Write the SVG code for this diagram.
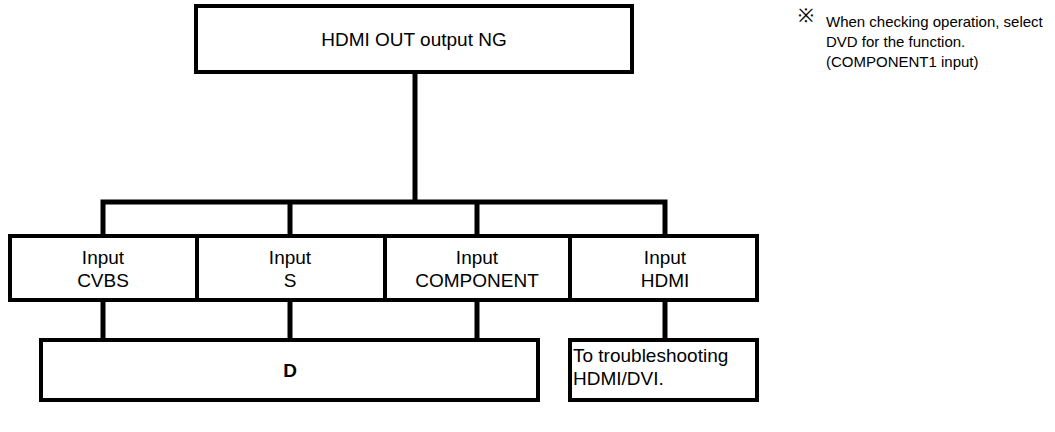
<svg xmlns="http://www.w3.org/2000/svg" width="1055" height="432" viewBox="0 0 1055 432">
<style>
.box{fill:#fff;stroke:#000;stroke-width:4}
.ln{fill:none;stroke:#000;stroke-width:5}
text{font-family:"Liberation Sans",Arial,sans-serif;font-size:19px;fill:#000}
.c{text-anchor:middle}
.n{font-size:15px}
</style>
<rect width="1055" height="432" fill="#fff"/>
<g id="connectors">
<path class="ln" d="M415 72V202M103 236V202H665V236M290 202V236M477 202V236"/>
<path class="ln" d="M103 300V340M290 300V340M477 300V340M665 300V340"/>
</g>
<g id="top"><rect class="box" x="196" y="6" width="436" height="66"/><text class="c" x="414" y="46">HDMI OUT output NG</text></g>
<g id="cvbs"><rect class="box" x="10" y="236" width="187" height="64"/><text class="c" x="103" y="264">Input</text><text class="c" x="103" y="287">CVBS</text></g>
<g id="s"><rect class="box" x="197" y="236" width="188" height="64"/><text class="c" x="290" y="264">Input</text><text class="c" x="290" y="287">S</text></g>
<g id="component"><rect class="box" x="385" y="236" width="185" height="64"/><text class="c" x="477" y="264">Input</text><text class="c" x="477" y="287">COMPONENT</text></g>
<g id="hdmi"><rect class="box" x="570" y="236" width="187" height="64"/><text class="c" x="665" y="264">Input</text><text class="c" x="665" y="287">HDMI</text></g>
<g id="d"><rect class="box" x="41" y="340" width="497" height="60"/><text class="c" x="290" y="377" font-weight="bold" font-size="17">D</text></g>
<g id="trouble"><rect class="box" x="570" y="340" width="187" height="60"/><text x="573" y="362" font-size="18">To troubleshooting</text><text x="573" y="385" font-size="18">HDMI/DVI.</text></g>
<g id="note"><text x="798" y="22" font-family="'Noto Sans CJK JP',sans-serif" font-size="17">※</text><text class="n" x="826" y="27">When checking operation, select</text><text class="n" x="826" y="47">DVD for the function.</text><text class="n" x="826" y="67">(COMPONENT1 input)</text></g>
</svg>
